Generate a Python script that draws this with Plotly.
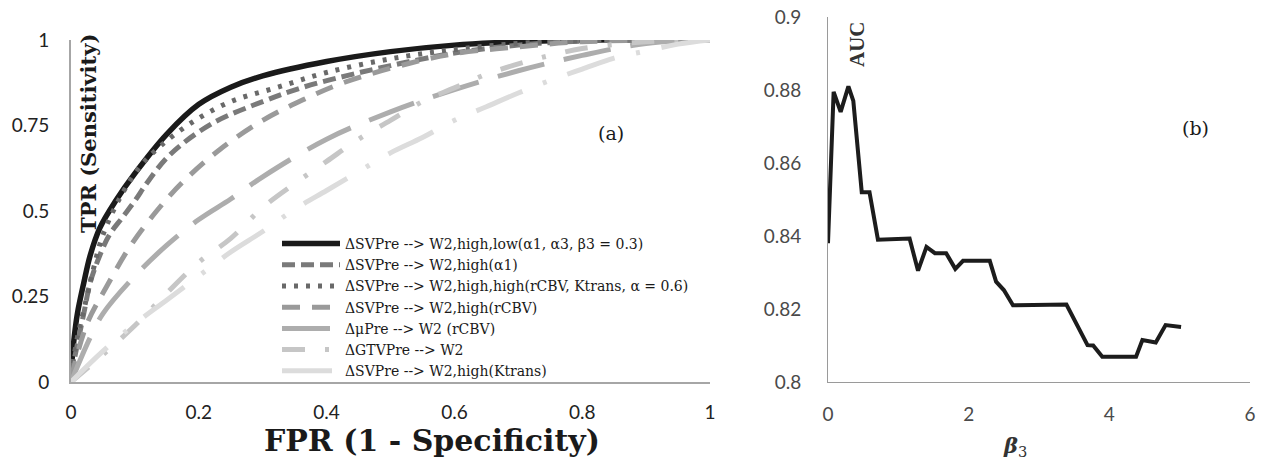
import plotly.graph_objects as go

W, H = 1261, 460

# ---------------- Panel (a): ROC curves ----------------
names = [
    "ΔSVPre --> W2,high,low(α1, α3, β3 = 0.3)",
    "ΔSVPre --> W2,high(α1)",
    "ΔSVPre --> W2,high,high(rCBV, Ktrans, α = 0.6)",
    "ΔSVPre --> W2,high(rCBV)",
    "ΔμPre --> W2 (rCBV)",
    "ΔGTVPre --> W2",
    "ΔSVPre --> W2,high(Ktrans)",
]

fpr_black = [0, 0.005, 0.01, 0.02, 0.03, 0.045, 0.07, 0.1, 0.15, 0.2, 0.25, 0.3, 0.4, 0.5, 0.6, 0.7, 0.8, 1.0]
tpr_black = [0.03, 0.13, 0.20, 0.29, 0.37, 0.45, 0.53, 0.61, 0.725, 0.812, 0.862, 0.895, 0.937, 0.966, 0.985, 0.995, 1.0, 1.0]

fpr_a1 = [0, 0.01, 0.02, 0.03, 0.045, 0.06, 0.08, 0.1, 0.12, 0.155, 0.22, 0.3, 0.36, 0.43, 0.5, 0.6, 0.7, 0.8, 1.0]
tpr_a1 = [0.02, 0.11, 0.2, 0.29, 0.37, 0.43, 0.48, 0.53, 0.585, 0.665, 0.755, 0.82, 0.86, 0.895, 0.925, 0.962, 0.985, 0.997, 1.0]

fpr_dot = [0, 0.01, 0.02, 0.035, 0.05, 0.077, 0.108, 0.14, 0.19, 0.25, 0.32, 0.4, 0.5, 0.6, 0.7, 0.8, 1.0]
tpr_dot = [0.02, 0.13, 0.21, 0.33, 0.43, 0.54, 0.63, 0.69, 0.76, 0.82, 0.86, 0.905, 0.945, 0.972, 0.99, 0.998, 1.0]

fpr_rcbv = [0, 0.025, 0.056, 0.092, 0.134, 0.175, 0.233, 0.3, 0.363, 0.426, 0.53, 0.6, 0.7, 0.8, 1.0]
tpr_rcbv = [0.01, 0.17, 0.28, 0.395, 0.50, 0.585, 0.68, 0.765, 0.825, 0.875, 0.932, 0.96, 0.98, 0.995, 1.0]

fpr_mu = [0, 0.03, 0.05, 0.1, 0.15, 0.2, 0.25, 0.3, 0.4, 0.5, 0.6, 0.7, 0.8, 0.9, 1.0]
tpr_mu = [0, 0.13, 0.2, 0.31, 0.40, 0.475, 0.535, 0.60, 0.71, 0.79, 0.855, 0.91, 0.955, 0.99, 1.0]

fpr_gtv = [0, 0.05, 0.1, 0.15, 0.2, 0.25, 0.3, 0.35, 0.4, 0.45, 0.5, 0.55, 0.6, 0.65, 0.7, 0.75, 0.8, 0.9, 1.0]
tpr_gtv = [0, 0.08, 0.165, 0.26, 0.35, 0.42, 0.51, 0.58, 0.645, 0.71, 0.765, 0.82, 0.86, 0.90, 0.93, 0.955, 0.975, 0.995, 1.0]

fpr_kt = [0, 0.05, 0.1, 0.15, 0.2, 0.25, 0.3, 0.35, 0.4, 0.45, 0.5, 0.55, 0.6, 0.65, 0.7, 0.75, 0.8, 0.85, 0.9, 0.95, 1.0]
tpr_kt = [0, 0.09, 0.17, 0.24, 0.31, 0.38, 0.44, 0.505, 0.56, 0.615, 0.67, 0.715, 0.765, 0.805, 0.845, 0.882, 0.915, 0.947, 0.968, 0.988, 1.0]

roc = [
    (fpr_black, tpr_black, "#1a1a1a", "solid", 5.5),
    (fpr_a1, tpr_a1, "#7a7a7a", "13px,6px", 5),
    (fpr_dot, tpr_dot, "#696969", "4px,8px", 5),
    (fpr_rcbv, tpr_rcbv, "#9a9a9a", "18px,12px", 5),
    (fpr_mu, tpr_mu, "#adadad", "48px,20px", 5),
    (fpr_gtv, tpr_gtv, "#c6c6c6", "23px,20px,4px,20px", 5),
    (fpr_kt, tpr_kt, "#dcdcdc", "50px,22px,4px,22px", 5),
]

# ---------------- Panel (b): AUC vs beta3 ----------------
beta3 = [0.0, 0.08, 0.18, 0.29, 0.36, 0.48, 0.59, 0.71, 1.16, 1.28, 1.40, 1.52, 1.68, 1.81, 1.92,
         2.30, 2.39, 2.50, 2.63, 3.39, 3.69, 3.77, 3.90, 4.38, 4.47, 4.66, 4.80, 5.02]
auc = [0.838, 0.8795, 0.874, 0.881, 0.877, 0.852, 0.852, 0.839, 0.8393, 0.8305, 0.837, 0.8353, 0.8353, 0.831, 0.8332,
       0.8332, 0.8275, 0.8252, 0.821, 0.8212, 0.8101, 0.810, 0.8069, 0.8069, 0.8115, 0.8108, 0.8156, 0.8151]

fig = go.Figure()

for (x, y, col, dash, w), nm in zip(roc, names):
    fig.add_trace(go.Scatter(
        x=x, y=y, mode="lines", name=nm,
        line=dict(color=col, dash=dash, width=w, shape="spline", smoothing=1.0),
        xaxis="x", yaxis="y",
    ))

fig.add_trace(go.Scatter(
    x=beta3, y=auc, mode="lines", showlegend=False,
    line=dict(color="#1c1c1c", width=4),
    xaxis="x2", yaxis="y2",
))

def px_x(p):
    return p / W

def px_y(p):
    return (H - p) / H

tick_font = dict(family="Lato, Liberation Sans, sans-serif", size=19, color="#222222")
tick_font_b = dict(family="Lato, Liberation Sans, sans-serif", size=19, color="#4a4a4a")

fig.update_layout(
    width=W, height=H,
    margin=dict(l=0, r=0, t=0, b=0, autoexpand=False),
    paper_bgcolor="white", plot_bgcolor="white",
    xaxis=dict(domain=[px_x(71), px_x(710)], range=[0, 1], tickvals=[0, 0.2, 0.4, 0.6, 0.8, 1],
               showgrid=False, zeroline=False, showline=True, linecolor="#a6a6a6", linewidth=2,
               ticks="", tickfont=tick_font, anchor="y", automargin=False, ticklabelstandoff=12),
    yaxis=dict(domain=[px_y(382), px_y(40)], range=[0, 1], tickvals=[0, 0.25, 0.5, 0.75, 1],
               showgrid=False, zeroline=False, showline=True, linecolor="#a6a6a6", linewidth=2,
               ticks="", tickfont=tick_font, anchor="x", automargin=False, ticklabelstandoff=16),
    xaxis2=dict(domain=[px_x(828), px_x(1250)], range=[0, 6], tickvals=[0, 2, 4, 6],
                showgrid=False, zeroline=False, showline=True, linecolor="#9a9a9a", linewidth=1,
                ticks="", tickfont=tick_font_b, anchor="y2", automargin=False, ticklabelstandoff=15),
    yaxis2=dict(domain=[px_y(382), px_y(17)], range=[0.8, 0.9], tickvals=[0.8, 0.82, 0.84, 0.86, 0.88, 0.9],
                ticktext=["0.8", "0.82", "0.84", "0.86", "0.88", "0.9"],
                showgrid=False, zeroline=False, showline=True, linecolor="#9a9a9a", linewidth=1,
                ticks="", tickfont=tick_font_b, anchor="x2", automargin=False, ticklabelstandoff=22),
    legend=dict(x=px_x(277), y=px_y(228), xanchor="left", yanchor="top",
                bgcolor="rgba(0,0,0,0)", font=dict(family="DejaVu Serif, serif", size=14, color="#1a1a1a"),
                tracegroupgap=0, itemwidth=58),
    showlegend=True,
)

fig.add_annotation(text="<b>TPR (Sensitivity)</b>", xref="paper", yref="paper",
                   x=px_x(88), y=px_y(134), textangle=-90, showarrow=False,
                   font=dict(family="DejaVu Serif, serif", size=21, color="#1a1a1a"),
                   xanchor="center", yanchor="middle")
fig.add_annotation(text="<b>FPR (1 - Specificity)</b>", xref="paper", yref="paper",
                   x=px_x(432), y=px_y(440), showarrow=False,
                   font=dict(family="DejaVu Serif, serif", size=30, color="#1a1a1a"),
                   xanchor="center", yanchor="middle")
fig.add_annotation(text="(a)", xref="paper", yref="paper", x=px_x(611), y=px_y(133), showarrow=False,
                   font=dict(family="DejaVu Serif, serif", size=19, color="#1a1a1a"),
                   xanchor="center", yanchor="middle")
fig.add_annotation(text="(b)", xref="paper", yref="paper", x=px_x(1195), y=px_y(128), showarrow=False,
                   font=dict(family="DejaVu Serif, serif", size=19, color="#1a1a1a"),
                   xanchor="center", yanchor="middle")
fig.add_annotation(text="<b>AUC</b>", xref="paper", yref="paper", x=px_x(857), y=px_y(44), textangle=-90,
                   showarrow=False, font=dict(family="Liberation Serif, serif", size=21, color="#333333"),
                   xanchor="center", yanchor="middle")
fig.add_annotation(text="<b><i>β</i></b><sub>3</sub>", xref="paper", yref="paper", x=px_x(1015), y=px_y(446),
                   showarrow=False, font=dict(family="DejaVu Serif, serif", size=21, color="#333333"),
                   xanchor="center", yanchor="middle")

fig.write_html("out.html", config={"displayModeBar": False},
               post_script="document.body.style.margin='0';document.body.style.overflow='hidden';")
